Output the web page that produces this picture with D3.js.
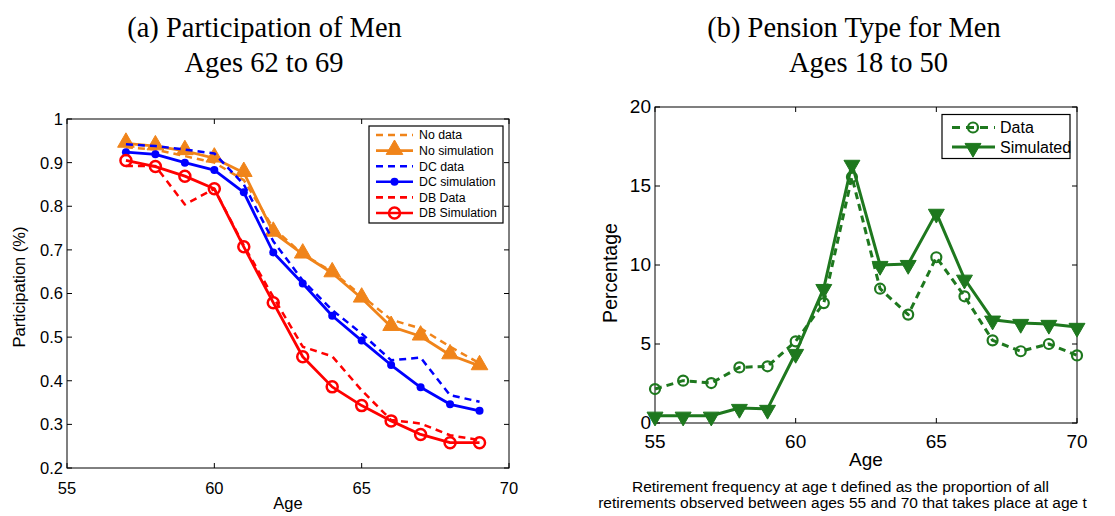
<!DOCTYPE html>
<html>
<head>
<meta charset="utf-8">
<script src="https://cdn.jsdelivr.net/npm/d3@7"></script>
<style>
  body { margin: 0; background: #fff; }
  svg { display: block; font-family: "Liberation Sans", Arial, sans-serif; }
</style>
</head>
<body>
<svg id="chart" width="1115" height="516"></svg>
<script>
// (a) participation, ages 57..69
const idadesA = [57, 58, 59, 60, 61, 62, 63, 64, 65, 66, 67, 68, 69];
const noData  = [0.935, 0.93, 0.915, 0.90, 0.86, 0.75, 0.69, 0.65, 0.595, 0.54, 0.52, 0.478, 0.44];
const noSim   = [0.944, 0.938, 0.927, 0.91, 0.877, 0.74, 0.69, 0.647, 0.589, 0.524, 0.502, 0.459, 0.434];
const dcData  = [0.942, 0.938, 0.93, 0.921, 0.85, 0.72, 0.63, 0.562, 0.508, 0.447, 0.453, 0.367, 0.352];
const dcSim   = [0.924, 0.919, 0.90, 0.883, 0.832, 0.694, 0.623, 0.549, 0.492, 0.436, 0.385, 0.346, 0.331];
const dbData  = [0.892, 0.892, 0.804, 0.84, 0.71, 0.592, 0.478, 0.456, 0.378, 0.31, 0.302, 0.275, 0.264];
const dbSim   = [0.905, 0.891, 0.869, 0.84, 0.707, 0.579, 0.455, 0.386, 0.343, 0.308, 0.277, 0.258, 0.258];
const ticksYA = [0.2, 0.3, 0.4, 0.5, 0.6, 0.7, 0.8, 0.9, 1];

// (b) retirement frequency, ages 55..70
const idadesB = [55, 56, 57, 58, 59, 60, 61, 62, 63, 64, 65, 66, 67, 68, 69, 70];
const freqData = [2.15, 2.68, 2.53, 3.52, 3.59, 5.17, 7.59, 15.57, 8.5, 6.86, 10.49, 8.02, 5.23, 4.54, 5.0, 4.28];
const freqSim  = [0.46, 0.46, 0.46, 0.95, 0.89, 4.43, 8.54, 16.4, 10.0, 10.06, 13.3, 9.13, 6.54, 6.33, 6.27, 6.08];
const ticksYB = [0, 5, 10, 15, 20];
const ticksX  = [55, 60, 65, 70];

const LARANJA = "#f0841a", AZUL = "#0000ff", VERMELHO = "#ff0000", VERDE = "#1e781e";

const svg = d3.select("#chart");

// caixa estilo matlab com ticks para dentro nos 4 lados
function caixa(x, y, ticksY, fonte, fmtY, xLabY, dyY) {
  const g = svg.append("g");
  const [x0, x1] = x.range(), [y0, y1] = y.range();
  g.append("rect").attr("x", x0).attr("y", y1).attr("width", x1 - x0).attr("height", y0 - y1)
    .attr("fill", "none").attr("stroke", "#000").attr("stroke-width", 1);
  const t = 5;
  ticksY.forEach(v => {
    g.append("line").attr("x1", x0).attr("x2", x0 + t).attr("y1", y(v)).attr("y2", y(v)).attr("stroke", "#000");
    g.append("line").attr("x1", x1).attr("x2", x1 - t).attr("y1", y(v)).attr("y2", y(v)).attr("stroke", "#000");
    g.append("text").attr("x", x0 - 4).attr("y", y(v)).attr("dy", dyY)
      .attr("text-anchor", "end").style("font-size", fonte + "px").text(fmtY(v));
  });
  ticksX.forEach(v => {
    g.append("line").attr("y1", y0).attr("y2", y0 - t).attr("x1", x(v)).attr("x2", x(v)).attr("stroke", "#000");
    g.append("line").attr("y1", y1).attr("y2", y1 + t).attr("x1", x(v)).attr("x2", x(v)).attr("stroke", "#000");
    g.append("text").attr("x", x(v)).attr("y", xLabY)
      .attr("text-anchor", "middle").style("font-size", fonte + "px").text(v);
  });
}

function serie(x, y, idades, vals, cor, tracejado, larg) {
  const linha = d3.line().x((d, i) => x(idades[i])).y(d => y(d));
  svg.append("path").datum(vals).attr("d", linha)
    .attr("fill", "none").attr("stroke", cor).attr("stroke-width", larg)
    .attr("stroke-dasharray", tracejado ? "7,5" : null)
    .attr("stroke-linejoin", "round");
}

function marcador(g, tipo, cx, cy, cor) {
  if (tipo === "tri") {
    g.append("path").attr("d", d3.symbol(d3.symbolTriangle, 120)()).attr("transform", `translate(${cx},${cy - 1})`)
      .attr("fill", cor).attr("stroke", cor).attr("stroke-width", 1);
  } else if (tipo === "dot") {
    g.append("circle").attr("cx", cx).attr("cy", cy).attr("r", 4).attr("fill", cor);
  } else if (tipo === "circ") {
    g.append("circle").attr("cx", cx).attr("cy", cy).attr("r", 5.5).attr("fill", "none")
      .attr("stroke", cor).attr("stroke-width", 2.5);
  } else if (tipo === "circB") {
    g.append("circle").attr("cx", cx).attr("cy", cy).attr("r", 5).attr("fill", "none")
      .attr("stroke", cor).attr("stroke-width", 2.2);
  } else if (tipo === "triDown") {
    g.append("path").attr("d", d3.symbol(d3.symbolTriangle, 110)())
      .attr("transform", `translate(${cx},${cy + 1}) rotate(180)`)
      .attr("fill", cor).attr("stroke", cor).attr("stroke-width", 1);
  }
}

function marcadores(x, y, idades, vals, tipo, cor) {
  const g = svg.append("g");
  vals.forEach((v, i) => marcador(g, tipo, x(idades[i]), y(v), cor));
}

function titulo(linhas) {
  linhas.forEach(([txt, cx, by]) => {
    svg.append("text").attr("x", cx).attr("y", by).attr("text-anchor", "middle")
      .style("font-family", "'Liberation Serif', 'Times New Roman', serif").style("font-size", "28.5px")
      .text(txt);
  });
}

// ---------- painel (a) ----------
const xA = d3.scaleLinear().domain([55, 70]).range([67, 509]);
const yA = d3.scaleLinear().domain([0.2, 1]).range([468, 119]);
caixa(xA, yA, ticksYA, 16.5, d => d === 1 ? "1" : d.toFixed(1), 494, "0.36em");

const seriesA = [
  { nome: "No data", vals: noData, cor: LARANJA, dash: true, mk: null },
  { nome: "No simulation", vals: noSim, cor: LARANJA, dash: false, mk: "tri" },
  { nome: "DC data", vals: dcData, cor: AZUL, dash: true, mk: null },
  { nome: "DC simulation", vals: dcSim, cor: AZUL, dash: false, mk: "dot" },
  { nome: "DB Data", vals: dbData, cor: VERMELHO, dash: true, mk: null },
  { nome: "DB Simulation", vals: dbSim, cor: VERMELHO, dash: false, mk: "circ" },
];
seriesA.forEach(s => {
  serie(xA, yA, idadesA, s.vals, s.cor, s.dash, s.dash ? 2.5 : 2.8);
  if (s.mk) marcadores(xA, yA, idadesA, s.vals, s.mk, s.cor);
});

svg.append("text").attr("x", 288).attr("y", 509).attr("text-anchor", "middle")
  .style("font-size", "16.5px").text("Age");
svg.append("text").attr("transform", "translate(25,287) rotate(-90)").attr("text-anchor", "middle")
  .style("font-size", "16.5px").text("Participation (%)");

// legenda (a)
const legA = svg.append("g");
legA.append("rect").attr("x", 369).attr("y", 126).attr("width", 134).attr("height", 97)
  .attr("fill", "#fff").attr("stroke", "#000").attr("stroke-width", 1.2);
seriesA.forEach((s, i) => {
  const ly = 135 + i * 15.6;
  legA.append("line").attr("x1", 376).attr("x2", 413).attr("y1", ly).attr("y2", ly)
    .attr("stroke", s.cor).attr("stroke-width", 2.6).attr("stroke-dasharray", s.dash ? "7,5" : null);
  if (s.mk) marcador(legA, s.mk, 394.5, ly, s.cor);
  legA.append("text").attr("x", 419).attr("y", ly).attr("dy", "0.36em")
    .style("font-size", "12.3px").text(s.nome);
});

titulo([["(a) Participation of Men", 264.5, 37], ["Ages 62 to 69", 264, 72]]);

// ---------- painel (b) ----------
const xB = d3.scaleLinear().domain([55, 70]).range([655, 1077]);
const yB = d3.scaleLinear().domain([0, 20]).range([423, 107]);
caixa(xB, yB, ticksYB, 19, d => d, 448, "0.3em");

serie(xB, yB, idadesB, freqData, VERDE, true, 3);
marcadores(xB, yB, idadesB, freqData, "circB", VERDE);
serie(xB, yB, idadesB, freqSim, VERDE, false, 3);
marcadores(xB, yB, idadesB, freqSim, "triDown", VERDE);

svg.append("text").attr("x", 866).attr("y", 466).attr("text-anchor", "middle")
  .style("font-size", "19px").text("Age");
svg.append("text").attr("transform", "translate(617,273) rotate(-90)").attr("text-anchor", "middle")
  .style("font-size", "19.5px").text("Percentage");

const legB = svg.append("g");
legB.append("rect").attr("x", 942).attr("y", 114.5).attr("width", 128).attr("height", 44)
  .attr("fill", "#fff").attr("stroke", "#000").attr("stroke-width", 1.2);
[["Data", true, "circB", 127.5], ["Simulated", false, "triDown", 147]].forEach(([nome, dash, mk, ly]) => {
  legB.append("line").attr("x1", 952).attr("x2", 995).attr("y1", ly).attr("y2", ly)
    .attr("stroke", VERDE).attr("stroke-width", 3).attr("stroke-dasharray", dash ? "8,6" : null);
  marcador(legB, mk, 973, ly, VERDE);
  legB.append("text").attr("x", 1000).attr("y", ly).attr("dy", "0.36em")
    .style("font-size", "16px").text(nome);
});

titulo([["(b) Pension Type for Men", 854, 37], ["Ages 18 to 50", 868.5, 72]]);

svg.append("text").attr("x", 840.5).attr("y", 492).attr("text-anchor", "middle").style("font-size", "15.5px")
  .text("Retirement frequency at age t defined as the proportion of all");
svg.append("text").attr("x", 842.5).attr("y", 508).attr("text-anchor", "middle").style("font-size", "15.5px")
  .text("retirements observed between ages 55 and 70 that takes place at age t");
</script>
</body>
</html>
